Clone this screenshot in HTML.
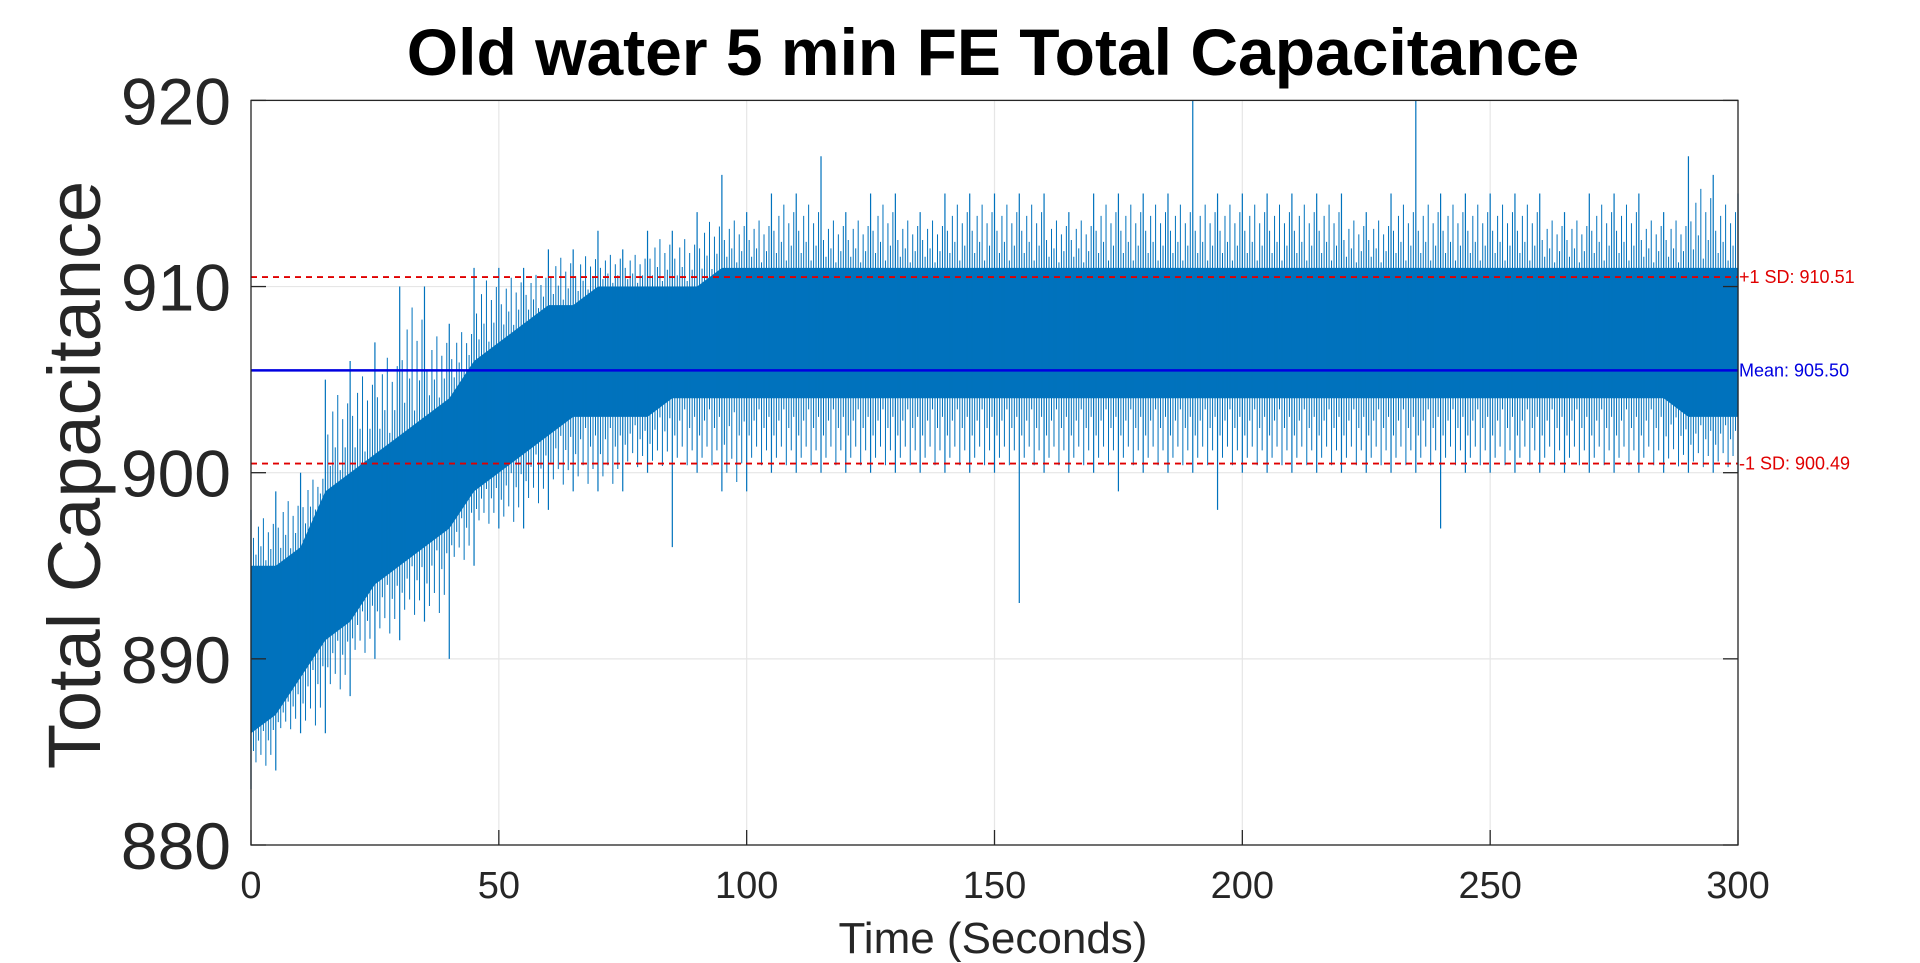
<!DOCTYPE html>
<html><head><meta charset="utf-8"><style>
html,body{margin:0;padding:0;background:#fff;}
svg{display:block;font-family:"Liberation Sans",Arial,sans-serif;}
</style></head><body>
<svg id="chart" width="1920" height="963" viewBox="0 0 1920 963">
<g id="grid"></g>
<g id="data"></g>
<g id="refs"></g>
<rect x="251" y="100.4" width="1487" height="744.6" fill="none" stroke="#262626" stroke-width="1.3"/>
<g id="ticks"></g>
<text x="993" y="75" text-anchor="middle" font-size="66" font-weight="bold" fill="#000">Old water 5 min FE Total Capacitance</text>
<text x="993" y="953" text-anchor="middle" font-size="44" fill="#262626">Time (Seconds)</text>
<text transform="translate(100,475) rotate(-90)" text-anchor="middle" font-size="74" fill="#262626">Total Capacitance</text>
</svg>
<script>
const times=[0,5,10,15,20,25,30,35,40,45,50,55,60,65,70,75,80,85,90,95,100,105,110,115,120,125,130,135,140,145,150,155,160,165,170,175,180,185,190,195,200,205,210,215,220,225,230,235,240,245,250,255,260,265,270,275,280,285,290,295,300];
const coreLo=[886,887,889,891,892,894,895,896,897,899,900,901,902,903,903,903,903,904,904,904,904,904,904,904,904,904,904,904,904,904,904,904,904,904,904,904,904,904,904,904,904,904,904,904,904,904,904,904,904,904,904,904,904,904,904,904,904,904,903,903,903];
const coreHi=[895,895,896,899,900,901,902,903,904,906,907,908,909,909,910,910,910,910,910,911,911,911,911,911,911,911,911,911,911,911,911,911,911,911,911,911,911,911,911,911,911,911,911,911,911,911,911,911,911,911,911,911,911,911,911,911,911,911,911,911,911];
const extLo=[883,884,886,886,888,890,891,892,890,895,897,897,898,899,899,899,900,896,900,899,899,900,900,900,900,900,900,900,900,900,900,893,900,900,900,899,900,900,900,898,900,900,900,900,900,900,900,900,897,900,900,900,900,900,900,900,900,900,900,900,900];
const extHi=[898,899,900,905,906,907,910,910,908,911,911,911,912,912,913,912,913,913,914,916,914,915,915,917,914,915,915,914,915,915,915,915,915,914,915,915,915,915,920,915,915,915,915,915,915,914,915,920,915,915,915,915,915,914,915,915,915,914,917,916,915];
const yTicks=[880,890,900,910,920];
const xTicks=[0,50,100,150,200,250,300];
const meanVal=905.50, sdHi=910.51, sdLo=900.49;
const refLabels=["+1 SD: 910.51","Mean: 905.50","-1 SD: 900.49"];

const L=251,R=1738,T=100.4,B=845;
const x=t=>L+t/300*(R-L);
const y=v=>B-(v-880)/40*(B-T);
const NS="http://www.w3.org/2000/svg";
function mk(tag,attrs,parent){const e=document.createElementNS(NS,tag);for(const k in attrs)e.setAttribute(k,attrs[k]);parent.appendChild(e);return e;}
const grid=document.getElementById('grid'),data=document.getElementById('data'),refs=document.getElementById('refs'),ticks=document.getElementById('ticks');
const svg=document.getElementById('chart');
yTicks.forEach(v=>{
 const g=mk('line',{x1:L,x2:R,y1:y(v),y2:y(v),stroke:'#e6e6e6','stroke-width':1.2},grid);
 
 
 const t1=mk('line',{x1:L,x2:L+15,y1:y(v),y2:y(v),stroke:'#262626','stroke-width':1.3},ticks);
 
 
 const t2=mk('line',{x1:R-15,x2:R,y1:y(v),y2:y(v),stroke:'#262626','stroke-width':1.3},ticks);
 
 
 const lb=mk('text',{x:231,y:y(v)+24,'text-anchor':'end','font-size':66,fill:'#262626'},svg);
 lb.textContent=v;
 
 
});
xTicks.forEach(t=>{
 const g=mk('line',{x1:x(t),x2:x(t),y1:T,y2:B,stroke:'#e6e6e6','stroke-width':1.2},grid);
 
 
 const t1=mk('line',{x1:x(t),x2:x(t),y1:B-15,y2:B,stroke:'#262626','stroke-width':1.3},ticks);
 
 
 const lb=mk('text',{x:x(t),y:898,'text-anchor':'middle','font-size':38,fill:'#262626'},svg);
 lb.textContent=t;
 
 
});
let pts=times.map((t,i)=>x(t)+','+y(coreHi[i]));
pts=pts.concat(times.map((t,i)=>x(t)+','+y(coreLo[i])).reverse());
const core=mk('polygon',{points:pts.join(' '),fill:'#0072bd'},data);


for(let i=0;i<times.length;i++){
 const sp=mk('line',{x1:x(times[i]),x2:x(times[i]),y1:y(extHi[i]),y2:y(extLo[i]),stroke:'#0072bd','stroke-width':1.2},data);
 
 
 if(i<times.length-1){
  const hiM=Math.min(extHi[i],extHi[i+1]), loM=Math.max(extLo[i],extLo[i+1]);
  for(let k=1;k<10;k++){
   const tm=times[i]+(times[i+1]-times[i])*k/10;
   const f=k/10;
   const cH=coreHi[i]*(1-f)+coreHi[i+1]*f, cL=coreLo[i]*(1-f)+coreLo[i+1]*f;
   const s=[0.5,0.2,0.7,0.35,0.85,0.1,0.6,0.3,0.75][k-1];
   const a=mk('line',{x1:x(tm),x2:x(tm),y1:y(cH+(hiM-cH)*s),y2:y(cL-(cL-loM)*(1-s)),stroke:'#0072bd','stroke-width':1},data);
   
   
  }
 }
}
const refVals=[sdHi,meanVal,sdLo];
const refCols=['#e00000','#0000e0','#e00000'];
refVals.forEach((v,i)=>{
 const ln=mk('line',{x1:L,x2:R,y1:y(v),y2:y(v),stroke:refCols[i],'stroke-width':i==1?2.5:1.8},refs);
 if(i!=1) ln.setAttribute('stroke-dasharray','6,5');
 
 
 const tx=mk('text',{x:R+1,y:y(v)+6,'font-size':18,fill:refCols[i]},refs);
 tx.textContent=refLabels[i];
 
 
});
</script>
</body></html>
